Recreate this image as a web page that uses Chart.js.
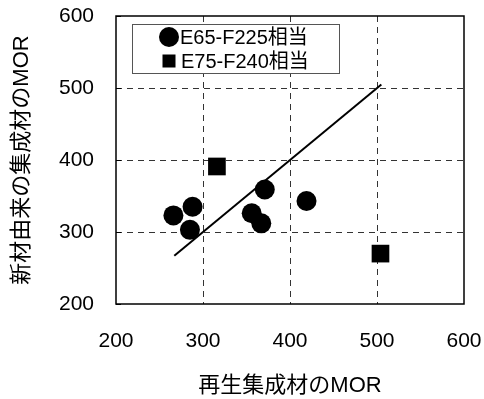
<!DOCTYPE html>
<html>
<head>
<meta charset="utf-8">
<script src="https://cdn.jsdelivr.net/npm/chart.js@4"></script>
<style>
  html, body { margin:0; padding:0; background:#fff; }
  #wrap { width:484px; height:399px; }
</style>
</head>
<body>
<div id="wrap"><canvas id="morChart" width="484" height="399"></canvas></div>
<script>
// series labels
const seriesNames = ['E65-F225相当', 'E75-F240相当'];

// E65-F225 (circles)
const e65X = [266, 288, 285, 356, 367, 371, 419];
const e65Y = [323, 335, 303, 326, 312, 359, 343];

// E75-F240 (squares)
const e75X = [316, 504];
const e75Y = [391, 270];

// 1:1 reference line
const refX = [267, 505];
const refY = [267, 505];

const xTicks = [200, 300, 400, 500, 600];
const yTicks = [200, 300, 400, 500, 600];

const xTitle = '再生集成材のMOR';
const yTitle = '新材由来の集成材のMOR';

const FONT = "'Liberation Sans', Arial, 'Noto Sans CJK JP', sans-serif";

const toPoints = (xs, ys) => xs.map((x, i) => ({x: x, y: ys[i]}));

// dashed grid, but leave the outer edges to the solid frame
const gridColor = ctx => (ctx.index === 0 || ctx.index === 4) ? 'rgba(0,0,0,0)' : '#333';

const framePlugin = {
    id: 'frame',
    afterDatasetsDraw(chart) {
        const {ctx, chartArea: a, scales} = chart;
        ctx.save();
        ctx.strokeStyle = '#000';
        ctx.lineWidth = 1.5;
        ctx.strokeRect(a.left, a.top, a.right - a.left, a.bottom - a.top);
        // small inward ticks on the y axis
        ctx.lineWidth = 1;
        yTicks.forEach(v => {
            const py = Math.round(scales.y.getPixelForValue(v)) + 0.5;
            ctx.beginPath();
            ctx.moveTo(a.left, py);
            ctx.lineTo(a.left + 5, py);
            ctx.stroke();
        });
        ctx.restore();
    }
};

const legendPlugin = {
    id: 'boxLegend',
    afterDraw(chart) {
        const {ctx, chartArea: a} = chart;
        const bx = a.left + 16, by = a.top + 8, bw = 207, bh = 49;
        ctx.save();
        ctx.fillStyle = '#fff';
        ctx.fillRect(bx, by, bw, bh);
        ctx.strokeStyle = '#555';
        ctx.lineWidth = 1;
        ctx.strokeRect(bx + 0.5, by + 0.5, bw, bh);

        ctx.fillStyle = '#000';
        ctx.font = '20px ' + FONT;
        ctx.textBaseline = 'middle';
        ctx.textAlign = 'left';

        const mx = bx + 37;
        const rows = [by + 13, by + 37];
        // circle marker
        ctx.beginPath();
        ctx.arc(mx, rows[0], 10, 0, Math.PI * 2);
        ctx.fill();
        ctx.fillText(seriesNames[0], bx + 48, rows[0] + 1);
        // square marker
        ctx.fillRect(mx - 6.5, rows[1] - 6.5, 13, 13);
        ctx.fillText(seriesNames[1], bx + 49, rows[1] + 1);
        ctx.restore();
    }
};

new Chart(document.getElementById('morChart'), {
    type: 'scatter',
    data: {
        datasets: [
            {
                label: seriesNames[0],
                data: toPoints(e65X, e65Y),
                pointStyle: 'circle',
                pointRadius: 10,
                pointHoverRadius: 10,
                backgroundColor: '#000',
                borderColor: '#000',
                borderWidth: 0,
                order: 0
            },
            {
                label: seriesNames[1],
                data: toPoints(e75X, e75Y),
                pointStyle: 'rect',
                pointRadius: 12.5,
                pointHoverRadius: 12.5,
                backgroundColor: '#000',
                borderColor: '#000',
                borderWidth: 0,
                order: 1
            },
            {
                label: '1:1',
                data: toPoints(refX, refY),
                showLine: true,
                pointRadius: 0,
                borderColor: '#000',
                borderWidth: 2,
                order: 2
            }
        ]
    },
    options: {
        responsive: false,
        animation: false,
        layout: { padding: { top: 16, right: 20, left: 0, bottom: 0 } },
        plugins: {
            legend: { display: false },
            tooltip: { enabled: false }
        },
        scales: {
            x: {
                type: 'linear',
                min: 200, max: 600,
                afterBuildTicks: s => { s.ticks = xTicks.map(v => ({value: v})); },
                afterFit: s => { s.height = 95; s.paddingLeft = 0; s.paddingRight = 0; },
                ticks: {
                    color: '#000',
                    padding: 25,
                    maxRotation: 0,
                    font: { family: FONT, size: 21 }
                },
                grid: {
                    color: gridColor,
                    lineWidth: 1,
                    drawTicks: false
                },
                border: { display: false, dash: [6, 5] },
                title: {
                    display: true,
                    text: xTitle,
                    color: '#000',
                    font: { family: FONT, size: 22 },
                    padding: { top: 0, bottom: 0 }
                }
            },
            y: {
                type: 'linear',
                min: 200, max: 600,
                afterBuildTicks: s => { s.ticks = yTicks.map(v => ({value: v})); },
                afterFit: s => { s.width = 116; s.paddingTop = 0; s.paddingBottom = 0; },
                ticks: {
                    color: '#000',
                    padding: 22,
                    font: { family: FONT, size: 21 }
                },
                grid: {
                    color: gridColor,
                    lineWidth: 1,
                    drawTicks: false
                },
                border: { display: false, dash: [6, 5] },
                title: {
                    display: true,
                    text: yTitle,
                    color: '#000',
                    font: { family: FONT, size: 22 },
                    padding: { top: 9, bottom: 0 }
                }
            }
        }
    },
    plugins: [framePlugin, legendPlugin]
});
</script>
</body>
</html>
